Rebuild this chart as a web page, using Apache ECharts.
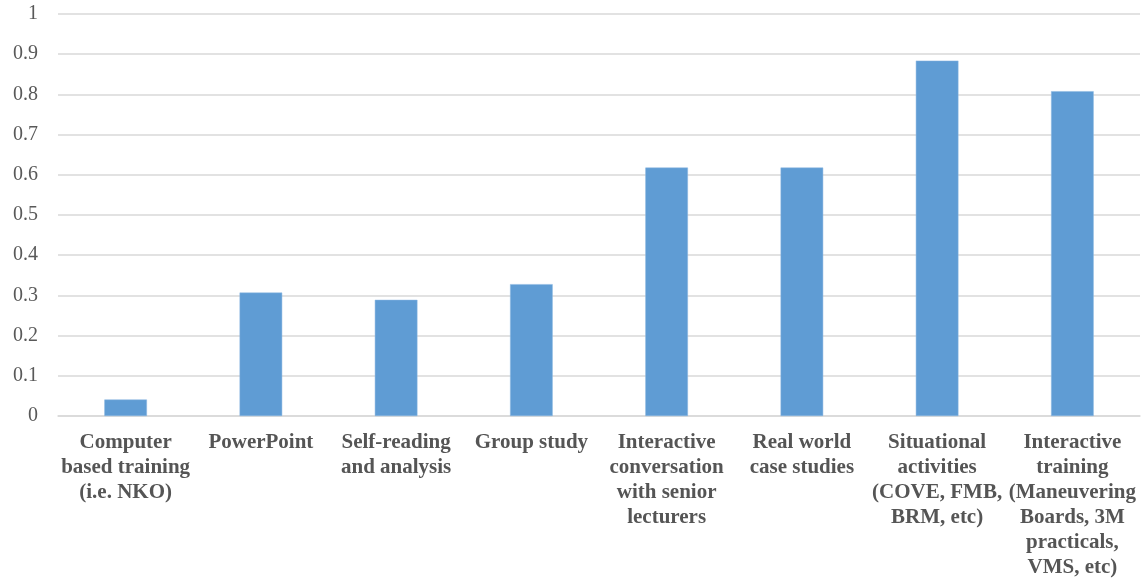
<!DOCTYPE html>
<html><head><meta charset="utf-8">
<script src="https://cdn.jsdelivr.net/npm/echarts@6/dist/echarts.min.js"></script>
<style>html,body{margin:0;padding:0;background:#fff}#c{width:1146px;height:581px}</style>
</head><body><div id="c"></div>
<script>
var categories = [
  "Computer\nbased training\n(i.e. NKO)",
  "PowerPoint",
  "Self-reading\nand analysis",
  "Group study",
  "Interactive\nconversation\nwith senior\nlecturers",
  "Real world\ncase studies",
  "Situational\nactivities\n(COVE, FMB,\nBRM, etc)",
  "Interactive\ntraining\n(Maneuvering\nBoards, 3M\npracticals,\nVMS, etc)"
];
var values = [0.041, 0.307, 0.289, 0.328, 0.618, 0.618, 0.884, 0.808];
var yTicks = {min: 0, max: 1, interval: 0.1};

var chart = echarts.init(document.getElementById('c'), null, {renderer: 'canvas'});
chart.setOption({
  animation: false,
  grid: {left: 58, right: 6, top: 14, bottom: 165, containLabel: false},
  xAxis: {
    type: 'category',
    data: categories,
    axisLine: {show: true, lineStyle: {color: '#d9d9d9', width: 1.5}},
    axisTick: {show: false},
    axisLabel: {
      interval: 0,
      margin: 14,
      color: '#555555',
      fontFamily: 'Liberation Serif',
      fontWeight: 'bold',
      fontSize: 21,
      lineHeight: 25,
      align: 'center'
    }
  },
  yAxis: {
    type: 'value',
    min: yTicks.min, max: yTicks.max, interval: yTicks.interval,
    axisLine: {show: false},
    axisTick: {show: false},
    splitLine: {lineStyle: {color: '#d9d9d9', width: 1.5}},
    axisLabel: {
      margin: 20,
      color: '#595959',
      fontFamily: 'Liberation Serif',
      fontSize: 20,
      formatter: function(v){ return String(Math.round(v*10)/10); }
    }
  },
  series: [{
    type: 'bar',
    data: values,
    barWidth: '31.5%',
    itemStyle: {color: '#5f9cd4', borderColor: '#8ab6e0', borderWidth: 0.5}
  }]
});
</script></body></html>
